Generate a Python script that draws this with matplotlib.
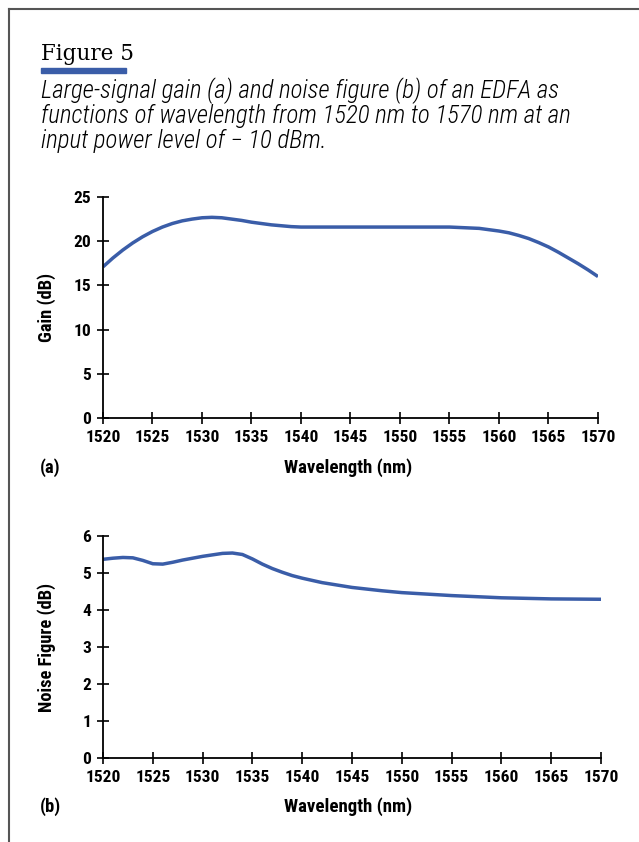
import matplotlib.pyplot as plt
from matplotlib.lines import Line2D
from matplotlib.patches import Rectangle

# Gain (a)
wl_gain = [1520, 1521, 1522, 1523, 1524, 1525, 1526, 1527, 1528, 1529, 1530, 1531, 1532, 1533,
           1534, 1535, 1536, 1537, 1538, 1539, 1540, 1545, 1550, 1555, 1557, 1558, 1559, 1560,
           1561, 1562, 1563, 1564, 1565, 1566, 1567, 1568, 1569, 1570]
gain = [17.1, 18.1, 19.0, 19.8, 20.5, 21.1, 21.6, 22.0, 22.3, 22.5, 22.65, 22.7, 22.65, 22.5,
        22.35, 22.15, 22.0, 21.85, 21.75, 21.65, 21.6, 21.6, 21.6, 21.6, 21.5, 21.45, 21.3, 21.15,
        20.95, 20.65, 20.3, 19.85, 19.35, 18.75, 18.1, 17.45, 16.75, 16.0]

# Noise figure (b)
wl_nf = [1520, 1521, 1522, 1523, 1524, 1525, 1526, 1527, 1528, 1529, 1530, 1531, 1532, 1533,
         1534, 1535, 1536, 1537, 1538, 1539, 1540, 1542, 1545, 1548, 1550, 1555, 1560, 1565, 1570]
nf = [5.37, 5.40, 5.42, 5.41, 5.34, 5.25, 5.24, 5.29, 5.35, 5.40, 5.45, 5.49, 5.53, 5.54,
      5.50, 5.38, 5.24, 5.12, 5.02, 4.93, 4.86, 4.74, 4.61, 4.52, 4.47, 4.39, 4.33, 4.30, 4.29]

x_ticks = list(range(1520, 1571, 5))
gain_ticks = [0, 5, 10, 15, 20, 25]
nf_ticks = [0, 1, 2, 3, 4, 5, 6]

caption_lines = ['Large-signal gain (a) and noise figure (b) of an EDFA as',
                 'functions of wavelength from 1520 nm to 1570 nm at an',
                 'input power level of \u2212 10 dBm.']

blue = '#3a5da8'
W, H = 639, 842
fig = plt.figure(figsize=(W / 100, H / 100), dpi=100)

cond = ['Roboto Condensed', 'Liberation Sans Narrow', 'Roboto']
lab_font = dict(family=cond, weight='bold')


def style(ax, yticks):
    for s in ['top', 'right']:
        ax.spines[s].set_visible(False)
    for s in ['left', 'bottom']:
        ax.spines[s].set_linewidth(1.3)
    ax.set_xlim(1520, 1570)
    ax.set_ylim(yticks[0], yticks[-1])
    ax.set_xticks(x_ticks)
    ax.set_yticks(yticks)
    ax.tick_params(direction='inout', length=9, width=1.2, labelsize=12.5, pad=4)
    for t in ax.get_xticklabels() + ax.get_yticklabels():
        t.set_fontfamily(cond)
        t.set_fontweight('bold')
    ax.patch.set_alpha(0)


ax1 = fig.add_axes([103 / W, 1 - 418 / H, 495 / W, 221 / H])
ax1.plot(wl_gain, gain, color=blue, lw=2.5, solid_capstyle='butt')
style(ax1, gain_ticks)

ax2 = fig.add_axes([103 / W, 1 - 758 / H, 498 / W, 222 / H])
ax2.plot(wl_nf, nf, color=blue, lw=2.5, solid_capstyle='butt')
style(ax2, nf_ticks)

fig.text(47 / W, 1 - 307 / H, 'Gain (dB)', rotation=90, ha='center', va='center', fontsize=13.3, **lab_font)
fig.text(47 / W, 1 - 647 / H, 'Noise Figure (dB)', rotation=90, ha='center', va='center', fontsize=13.3, **lab_font)
fig.text(348 / W, 1 - 468 / H, 'Wavelength (nm)', ha='center', va='center', fontsize=13.6, **lab_font)
fig.text(348 / W, 1 - 807 / H, 'Wavelength (nm)', ha='center', va='center', fontsize=13.6, **lab_font)
fig.text(40 / W, 1 - 468 / H, '(a)', ha='left', va='center', fontsize=13.3, **lab_font)
fig.text(40 / W, 1 - 807 / H, '(b)', ha='left', va='center', fontsize=13.3, **lab_font)

# header
fig.text(41 / W, 1 - 60 / H, 'Figure 5', ha='left', va='baseline', fontsize=15.5, family='DejaVu Serif')
fig.patches.append(Rectangle((41 / W, 1 - 73 / H), 85 / W, 5 / H, color=blue, transform=fig.transFigure))
for i, line in enumerate(caption_lines):
    fig.text(41 / W, 1 - (98 + 25 * i) / H, line, ha='left', va='baseline', fontsize=18,
             style='italic', weight='light', family=cond)

# frame
fig.lines.append(Line2D([9 / W, 9 / W], [0, 1 - 9 / H], color='#555555', lw=1.5, transform=fig.transFigure))
fig.lines.append(Line2D([9 / W, 1], [1 - 9 / H, 1 - 9 / H], color='#555555', lw=1.5, transform=fig.transFigure))

fig.savefig('out.png', dpi=100)
